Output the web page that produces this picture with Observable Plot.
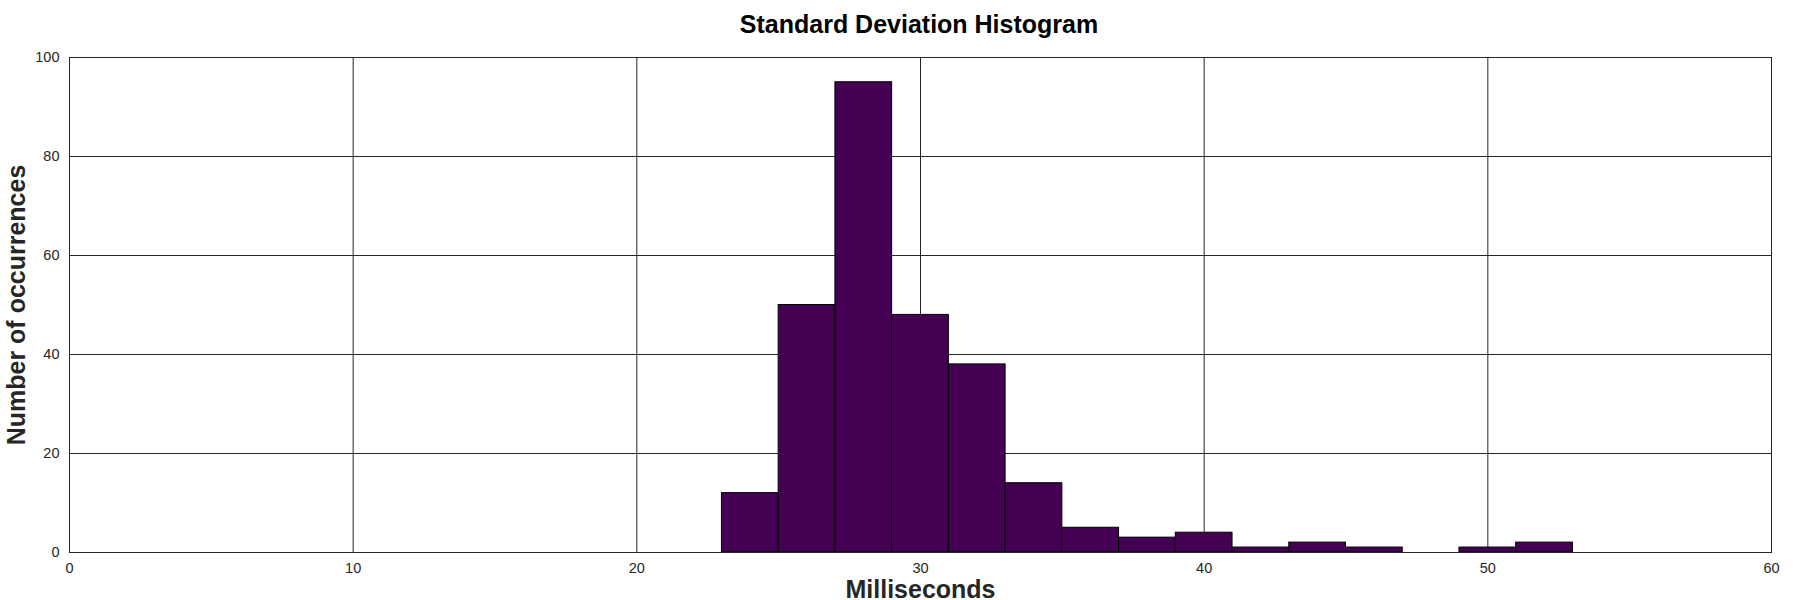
<!DOCTYPE html>
<html>
<head>
<meta charset="utf-8">
<script src="https://cdn.jsdelivr.net/npm/d3@7"></script>
<script src="https://cdn.jsdelivr.net/npm/@observablehq/plot@0.6"></script>
<style>
  html, body { margin: 0; padding: 0; background: #fff; }
  #title { height: 36px; overflow: visible; text-align: center; padding-left: 38px; font: bold 25px "Liberation Sans", Arial, sans-serif; line-height: 48px; color: #000; }
  svg { display: block; }
</style>
</head>
<body>
<div id="title">Standard Deviation Histogram</div>
<div id="chart"></div>
<script>
const binLow  = [23, 25, 27, 29, 31, 33, 35, 37, 39, 41, 43, 45, 47, 49, 51];
const binHigh = [25, 27, 29, 31, 33, 35, 37, 39, 41, 43, 45, 47, 49, 51, 53];
const counts  = [12, 50, 95, 48, 38, 14, 5, 3, 4, 1, 2, 1, 0, 1, 2];
const xTicks = [0, 10, 20, 30, 40, 50, 60];
const yTicks = [0, 20, 40, 60, 80, 100];
const xLabel = "Milliseconds";
const yLabel = "Number of occurrences";

const bins = binLow.map((lo, i) => ({lo, hi: binHigh[i], n: counts[i]})).filter(d => d.n > 0);
const font = '"Liberation Sans", Arial, sans-serif';

const chart = Plot.plot({
  width: 1800,
  height: 564,
  marginTop: 21,
  marginBottom: 48,
  marginLeft: 69,
  marginRight: 29,
  style: {fontFamily: font, fontSize: "14px", color: "#262626", background: "#fff", overflow: "visible"},
  x: {domain: [0, 60]},
  y: {domain: [0, 100]},
  marks: [
    Plot.gridX(xTicks, {stroke: "#262626", strokeOpacity: 1, strokeWidth: 1}),
    Plot.gridY(yTicks, {stroke: "#262626", strokeOpacity: 1, strokeWidth: 1}),
    Plot.rectY(bins, {x1: "lo", x2: "hi", y: "n", fill: "#440154", stroke: "#000", strokeWidth: 1}),
    Plot.frame({stroke: "#262626", strokeWidth: 1}),
    Plot.axisX({ticks: xTicks, tickSize: 0, tickPadding: 10, label: null, fontSize: 14.5}),
    Plot.axisY({ticks: yTicks, tickSize: 0, tickPadding: 10, label: null, fontSize: 14.5}),
    Plot.text([xLabel], {frameAnchor: "bottom", dy: 37, text: d => d, fontSize: 25, fontWeight: "bold", fill: "#262626", lineAnchor: "middle", textAnchor: "middle"}),
    Plot.text([yLabel], {frameAnchor: "left", dx: -53, rotate: -90, text: d => d, fontSize: 25, fontWeight: "bold", fill: "#262626", textAnchor: "middle", lineAnchor: "middle"})
  ]
});
document.getElementById("chart").appendChild(chart);
</script>
</body>
</html>
